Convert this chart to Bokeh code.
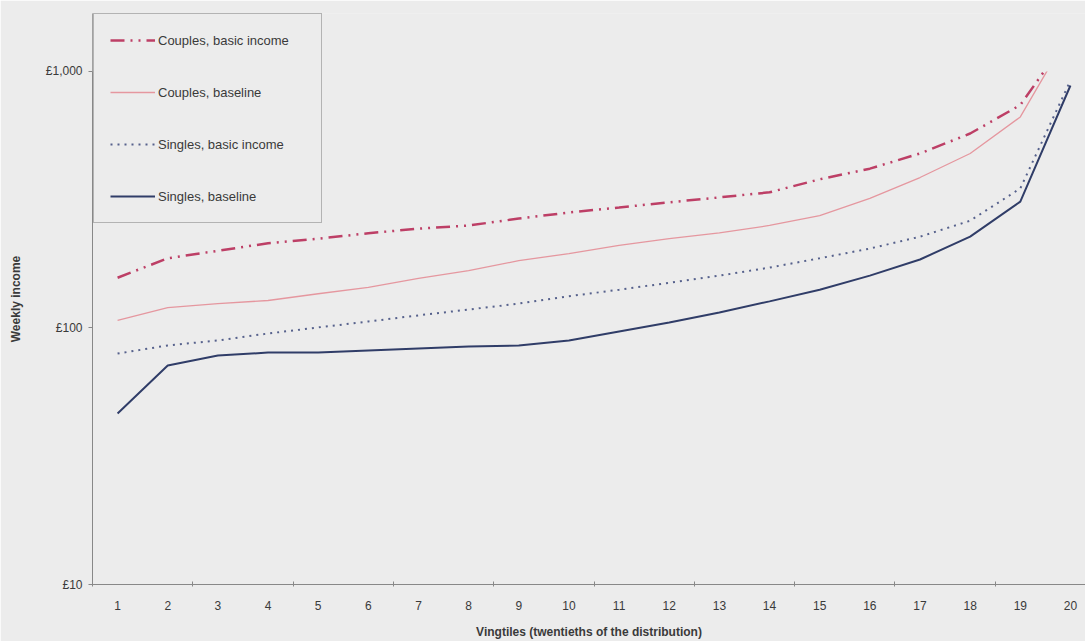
from bokeh.plotting import figure
from bokeh.models import Range1d, FixedTicker, Legend, LegendItem, BoxAnnotation
from bokeh.embed import file_html
from bokeh.resources import INLINE

vingtiles = list(range(1, 21))
couples_basic = [157, 187, 200, 214, 223, 234, 244, 251, 267, 282, 295, 309, 323, 338, 380, 418, 479, 573, 740, 1400]
couples_base = [107, 120, 124.5, 128, 136, 144, 156, 167.5, 183, 195, 210, 223, 235, 251, 274, 320, 386, 479, 665, 1440]
singles_basic = [79.5, 85.5, 89.4, 95.2, 100.5, 106, 112, 118, 124.5, 133, 141, 150, 160, 172, 187, 204, 227, 262, 350, 922]
singles_base = [46.4, 71.4, 78.1, 80.2, 80.2, 81.7, 83.2, 84.7, 85.5, 89.4, 96.9, 105, 115, 127, 141, 160, 185, 227, 311, 882]

y_ticks = [10, 100, 1000]
y_labels = ["£10", "£100", "£1,000"]
y_axis_max = 1000
x_minor = [v - 0.5 for v in vingtiles[::2]]

BG = "#ececec"
TXT = "#3a3a3a"
FONT = "Liberation Sans"

p = figure(width=1085, height=641, y_axis_type="log",
           x_range=Range1d(0.5, 20.3), y_range=Range1d(10, 1683),
           output_backend="svg", toolbar_location=None,
           min_border_left=92, min_border_right=0, min_border_top=13, min_border_bottom=57)
p.background_fill_color = BG
p.border_fill_color = BG
p.outline_line_color = None
p.xgrid.visible = False
p.ygrid.visible = False

r1 = p.line(vingtiles, couples_basic, line_color="#bd3f66", line_width=2.5, line_dash="14 6 2 6 2 6")
r2 = p.line(vingtiles, couples_base, line_color="#e5979f", line_width=1.3)
r3 = p.line(vingtiles, singles_basic, line_color="#56618c", line_width=2, line_dash="2 5")
r4 = p.line(vingtiles, singles_base, line_color="#303d68", line_width=2)

# values above the axis maximum are not shown (as in the original chart)
p.add_layout(BoxAnnotation(bottom=y_axis_max, fill_color=BG, fill_alpha=1.0, line_color=None))

xa = p.xaxis[0]
xa.ticker = FixedTicker(ticks=vingtiles, minor_ticks=x_minor)
xa.major_tick_in = 0
xa.major_tick_out = 0
xa.minor_tick_in = 3
xa.minor_tick_out = 2
xa.minor_tick_line_color = "#888888"
xa.axis_line_color = "#888888"
xa.major_label_standoff = 14
xa.major_label_text_font = FONT
xa.major_label_text_font_size = "12px"
xa.major_label_text_color = TXT
xa.axis_label = "Vingtiles (twentieths of the distribution)"
xa.axis_label_text_font = FONT
xa.axis_label_text_font_size = "12px"
xa.axis_label_text_font_style = "bold"
xa.axis_label_text_color = TXT
xa.axis_label_standoff = 12

ya = p.yaxis[0]
ya.ticker = FixedTicker(ticks=y_ticks, minor_ticks=[])
ya.major_label_overrides = dict(zip(y_ticks, y_labels))
ya.major_tick_in = 0
ya.major_tick_out = 4
ya.major_tick_line_color = "#888888"
ya.minor_tick_in = 0
ya.minor_tick_out = 0
ya.axis_line_color = "#888888"
ya.major_label_standoff = 6
ya.major_label_text_font = FONT
ya.major_label_text_font_size = "12px"
ya.major_label_text_color = TXT
ya.axis_label = "Weekly income"
ya.axis_label_text_font = FONT
ya.axis_label_text_font_size = "12px"
ya.axis_label_text_font_style = "bold"
ya.axis_label_text_color = TXT
ya.axis_label_standoff = 20

legend = Legend(items=[
    LegendItem(label="Couples, basic income", renderers=[r1]),
    LegendItem(label="Couples, baseline", renderers=[r2]),
    LegendItem(label="Singles, basic income", renderers=[r3]),
    LegendItem(label="Singles, baseline", renderers=[r4]),
], location=(1, 361))
legend.background_fill_color = BG
legend.background_fill_alpha = 1.0
legend.border_line_color = "#7a7a7a"
legend.border_line_width = 1
legend.padding = 16
legend.margin = 0
legend.spacing = 32
legend.glyph_width = 45
legend.glyph_height = 20
legend.label_height = 20
legend.label_width = 147
legend.label_standoff = 3
legend.label_text_font = FONT
legend.label_text_font_size = "13px"
legend.label_text_color = TXT
p.add_layout(legend, "center")

open("out.html", "w").write(file_html(p, INLINE))
